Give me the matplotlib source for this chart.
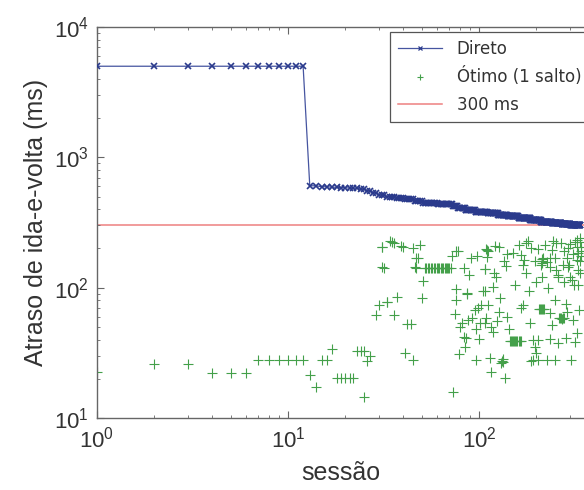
import numpy as np
import matplotlib
matplotlib.use('Agg')
import matplotlib.pyplot as plt
from matplotlib.ticker import LogLocator, NullFormatter

# ---------------- data ----------------
# Direct path delay: plateau levels (ms) and number of consecutive sessions at each level
direct_levels = [5000, 605, 595, 590, 585, 580, 570, 555, 535, 515, 500, 490, 475, 460,
                 448, 442, 425, 410, 395, 382, 372, 362, 352, 342, 332, 320, 312, 307, 302]
direct_counts = [12, 2, 2, 2, 2, 3, 2, 2, 2, 3, 4, 4, 5, 5,
                 10, 12, 5, 7, 11, 15, 15, 15, 20, 25, 25, 30, 30, 30, 38]

# Optimal (1 hop) delay: session, delay (ms)
opt_sessions = [1, 2, 3, 4, 5, 6, 7, 8, 9, 10, 11, 12, 13, 14, 15, 16, 17, 18, 19, 20,
                21, 22, 23, 24, 25, 25, 26, 27, 29, 30, 33, 31, 34, 36, 39, 40, 45, 49, 48, 32,
                47, 51, 37, 50, 33, 36, 42, 44, 41, 45, 73, 76, 87,
                52, 53, 54, 55, 56, 57, 58, 59, 60, 61, 62, 63, 64, 65, 66, 67, 68, 69, 70, 71,
                72, 76, 78, 91, 83, 89, 109, 110, 108, 76, 87, 105,
                75, 81, 80, 83, 85, 84, 79, 88, 92, 95, 99, 103, 96, 100, 96, 101, 109,
                129, 111, 127, 140, 108, 116, 119, 124, 143, 170, 166, 185,
                205, 208, 211, 214, 217, 220, 236,
                262, 265, 268, 271, 274, 277, 290, 311, 335, 240, 324,
                145, 147, 149, 151, 153, 155, 157, 159, 161, 163, 166,
                192, 204, 197, 200, 236, 260, 287, 317,
                114, 131, 132, 133, 134, 116, 136, 188, 192, 203, 226, 249, 304,
                110, 121, 127, 108, 138, 123, 108, 118, 161, 176, 188, 204, 166, 173, 170, 176,
                222, 240, 254, 236, 226, 249, 236, 254, 260, 292, 290, 292, 295, 324, 327, 330,
                324, 330, 230, 31, 31, 35, 46, 47, 150, 180, 196, 212, 213, 214, 215, 216,
                245, 270, 280, 300, 310, 320, 338, 339, 340, 341, 342, 338, 336, 280, 300, 315,
                215, 200, 182, 155, 140, 135, 120, 112, 98, 260, 275, 305, 330, 250, 285]
opt_delay = [22.6, 25.8, 25.8, 22.3, 22.3, 22.3, 28, 28, 28, 28, 28, 28, 21.4, 17.2, 28, 28, 33.7, 20.2, 20.2, 20.2,
             20.2, 20.2, 32.7, 32.7, 14.6, 32.7, 27.5, 30, 61.6, 73.6, 78, 206, 229, 221, 209, 206, 200, 213, 168, 142,
             142, 113, 85, 84, 77, 61.6, 52.4, 52.4, 31.7, 27.9, 15.9, 80.5, 89,
             141, 141, 141, 141, 141, 141, 141, 141, 141, 141, 141, 141, 141, 141, 141, 141, 141, 141, 141, 141,
             176, 192, 192, 168, 141, 125, 197, 173, 138, 97, 91, 95,
             62.8, 53.3, 49.7, 42, 40.9, 34.9, 31, 56.5, 58.2, 67.5, 69.5, 73.6, 47.9, 40.2, 27.9, 53.3, 58.2,
             82.8, 73.6, 65.5, 59.8, 53.3, 50.1, 45.9, 55.9, 47.9, 73.6, 69.5, 53.3,
             68, 69, 68.5, 69, 68, 68.5, 64.3,
             58, 59, 58, 57.5, 58, 58.5, 65.5, 56.5, 67.5, 51.8, 44.7,
             39.2, 39.2, 39.2, 39.2, 39.2, 39.2, 39.2, 39.2, 39.2, 39.2, 39.2,
             39.8, 39.8, 35.2, 31.4, 40.2, 37.8, 40.9, 38.6,
             28.7, 26.6, 27.5, 28.5, 27, 22.6, 20.2, 27.5, 28, 27.8, 28, 27.8, 27.8,
             195, 209, 206, 139, 147.5, 121, 93.5, 100.7, 213, 221, 200, 197, 178, 163, 149, 129,
             213, 195, 221, 168, 158, 168, 145, 137, 121, 200, 168, 145, 150, 232, 206, 184,
             163, 137, 99, 145, 206, 225, 145, 168, 185, 230, 160, 150, 155, 160, 165, 170,
             230, 220, 190, 215, 180, 225, 240, 225, 205, 190, 175, 160, 130, 110, 120, 105,
             120, 110, 95, 105, 180, 160, 130, 190, 175, 125, 150, 115, 105, 80, 75]
threshold = 300
series_labels = ['Direto', 'Ótimo (1 salto)', '300 ms']
x_label = 'sessão'
y_label = 'Atraso de ida-e-volta (ms)'

direct_sessions = np.arange(1, sum(direct_counts) + 1)
direct_delay = np.repeat(direct_levels, direct_counts)

# ---------------- figure ----------------
plt.rcParams['font.family'] = ['Liberation Sans', 'DejaVu Sans']
plt.rcParams['mathtext.default'] = 'regular'

W, H = 584, 490
fig = plt.figure(figsize=(W / 100, H / 100), dpi=100)
left, right, top, bottom = 97, 584, 27, 418
ax = fig.add_axes([left / W, 1 - bottom / H, (right - left) / W, (bottom - top) / H])

blue = '#2a3a8c'
green = '#44a04a'
red = '#ee8080'

ax.plot(direct_sessions, direct_delay, color='#4655a0', lw=0.9, zorder=3)
ax.plot(direct_sessions, direct_delay, ls='none', marker='x', ms=4.8, mew=1.2,
        color=blue, zorder=3)
ax.plot(opt_sessions, opt_delay, ls='none', marker='+', ms=6.5, mew=0.8, color=green,
        zorder=2)
ax.axhline(threshold, color=red, lw=1.1, zorder=1)

# legend proxies
h1, = ax.plot([], [], color='#4655a0', lw=0.9, marker='x', ms=3.5, mew=0.9,
              mec=blue, label=series_labels[0])
h2, = ax.plot([], [], ls='none', marker='+', ms=5, mew=0.8, color=green,
              label=series_labels[1])
h3, = ax.plot([], [], color=red, lw=1.1, label=series_labels[2])

ax.set_xscale('log')
ax.set_yscale('log')
ax.set_xlim(1, 10 ** ((right - left) / 191.0))
ax.set_ylim(10, 1e4)

ax.xaxis.set_major_locator(LogLocator(base=10, numticks=10))
ax.xaxis.set_minor_locator(LogLocator(base=10, subs=np.arange(2, 10), numticks=20))
ax.yaxis.set_major_locator(LogLocator(base=10, numticks=10))
ax.yaxis.set_minor_locator(LogLocator(base=10, subs=np.arange(2, 10), numticks=20))
ax.xaxis.set_minor_formatter(NullFormatter())
ax.yaxis.set_minor_formatter(NullFormatter())

spine_col = '#666666'
for s in ['left', 'bottom', 'top']:
    ax.spines[s].set_color(spine_col)
    ax.spines[s].set_linewidth(1.0)
ax.spines['right'].set_visible(False)

ax.tick_params(which='both', direction='in', top=True, right=False, color=spine_col)
ax.tick_params(which='major', length=5, width=0.8, labelsize=16, labelcolor='#333333', pad=6)
ax.tick_params(which='minor', length=2.5, width=0.6)

ax.set_xlabel(x_label, fontsize=18, color='#333333', labelpad=6)
ax.set_ylabel(y_label, fontsize=18, color='#333333', labelpad=4)

leg = ax.legend(handles=[h1, h2, h3], loc='upper left', bbox_to_anchor=(390 / W, 1 - 32 / H),
                bbox_transform=fig.transFigure, frameon=True, fancybox=False,
                edgecolor='#555555', framealpha=1, borderaxespad=0, numpoints=1,
                handlelength=2.6, handletextpad=0.9, labelspacing=0.55, borderpad=0.5,
                prop={'family': 'DejaVu Sans', 'size': 12})
leg.get_frame().set_linewidth(0.9)
for t in leg.get_texts():
    t.set_color('#333333')

fig.savefig('out.png', dpi=100)
